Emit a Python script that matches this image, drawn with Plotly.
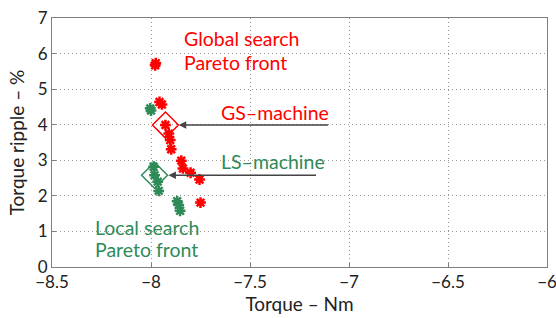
import plotly.graph_objects as go

# Global search Pareto front (red)
gs_torque = [-7.979, -7.976, -7.957, -7.945, -7.927, -7.910, -7.903, -7.898, -7.847, -7.839, -7.800, -7.755, -7.750]
gs_ripple = [5.67, 5.73, 4.64, 4.57, 3.99, 3.75, 3.57, 3.31, 2.99, 2.77, 2.65, 2.46, 1.81]
# Local search Pareto front (green)
ls_torque = [-8.004, -8.000, -7.987, -7.982, -7.966, -7.961, -7.868, -7.860, -7.853]
ls_ripple = [4.46, 4.40, 2.82, 2.58, 2.40, 2.14, 1.85, 1.74, 1.58]
# Selected machines
gs_machine = (-7.927, 3.99)
ls_machine = (-7.982, 2.58)

xticks = [-8.5, -8, -7.5, -7, -6.5, -6]
xtick_text = ["\u22128.5", "\u22128", "\u22127.5", "\u22127", "\u22126.5", "\u22126"]
yticks = [0, 1, 2, 3, 4, 5, 6, 7]

RED = "#ff0000"
GREEN = "#2e8b57"
FONT = "Lato"

fig = go.Figure()
fig.add_trace(go.Scatter(x=gs_torque, y=gs_ripple, mode="markers",
                         marker=dict(symbol="asterisk-open", size=9, color=RED,
                                     line=dict(color=RED, width=2.5)), showlegend=False))
fig.add_trace(go.Scatter(x=ls_torque, y=ls_ripple, mode="markers",
                         marker=dict(symbol="asterisk-open", size=9, color=GREEN,
                                     line=dict(color=GREEN, width=2.5)), showlegend=False))
fig.add_trace(go.Scatter(x=[gs_machine[0]], y=[gs_machine[1]], mode="markers",
                         marker=dict(symbol="diamond-open", size=20, color=RED,
                                     line=dict(color=RED, width=1.5)), showlegend=False))
fig.add_trace(go.Scatter(x=[ls_machine[0]], y=[ls_machine[1]], mode="markers",
                         marker=dict(symbol="diamond-open", size=20, color=GREEN,
                                     line=dict(color=GREEN, width=1.5)), showlegend=False))

anns = [
    dict(x=-7.841, y=6.43, text="Global search", color=RED),
    dict(x=-7.841, y=5.76, text="Pareto front", color=RED),
    dict(x=-7.659, y=4.33, text="GS\u2013machine", color=RED),
    dict(x=-7.659, y=2.98, text="LS\u2013machine", color=GREEN),
    dict(x=-8.295, y=1.12, text="Local search", color=GREEN),
    dict(x=-8.295, y=0.48, text="Pareto front", color=GREEN),
]
for a in anns:
    fig.add_annotation(x=a["x"], y=a["y"], text=a["text"], showarrow=False,
                       xanchor="left", yanchor="middle",
                       font=dict(family=FONT, size=19.5, color=a["color"]))

# Arrows
fig.add_annotation(x=-7.86, y=3.99, ax=-7.098, ay=3.99, xref="x", yref="y",
                   axref="x", ayref="y", showarrow=True, arrowhead=2, arrowsize=1,
                   arrowwidth=1.5, arrowcolor="#444444", text="")
fig.add_annotation(x=-7.912, y=2.58, ax=-7.159, ay=2.58, xref="x", yref="y",
                   axref="x", ayref="y", showarrow=True, arrowhead=2, arrowsize=1,
                   arrowwidth=1.5, arrowcolor="#444444", text="")

axis_common = dict(showline=True, linecolor="#7f7f7f", linewidth=1, mirror=True,
                   ticks="inside", ticklen=4, tickcolor="#7f7f7f",
                   showgrid=True, gridcolor="#999999", griddash="1px,3px", gridwidth=1,
                   zeroline=False, automargin=False, ticklabeloverflow="allow",
                   tickfont=dict(family=FONT, size=17, color="#222"))

fig.update_xaxes(range=[-8.5, -6], tickvals=xticks, ticktext=xtick_text,
                 title=dict(text="Torque \u2013 Nm", font=dict(family=FONT, size=19, color="#222"),
                            standoff=2), **axis_common)
fig.update_yaxes(range=[0, 7], tickvals=yticks,
                 title=dict(text="Torque ripple \u2013 %", font=dict(family=FONT, size=19, color="#222"),
                            standoff=8), **axis_common)

fig.update_layout(width=556, height=318, margin=dict(l=52, r=9, t=18, b=51),
                  plot_bgcolor="white", paper_bgcolor="white",
                  font=dict(family=FONT))

fig.write_html("out.html", config={"displayModeBar": False},
               post_script="document.body.style.margin='0px';document.body.style.overflow='hidden';")
